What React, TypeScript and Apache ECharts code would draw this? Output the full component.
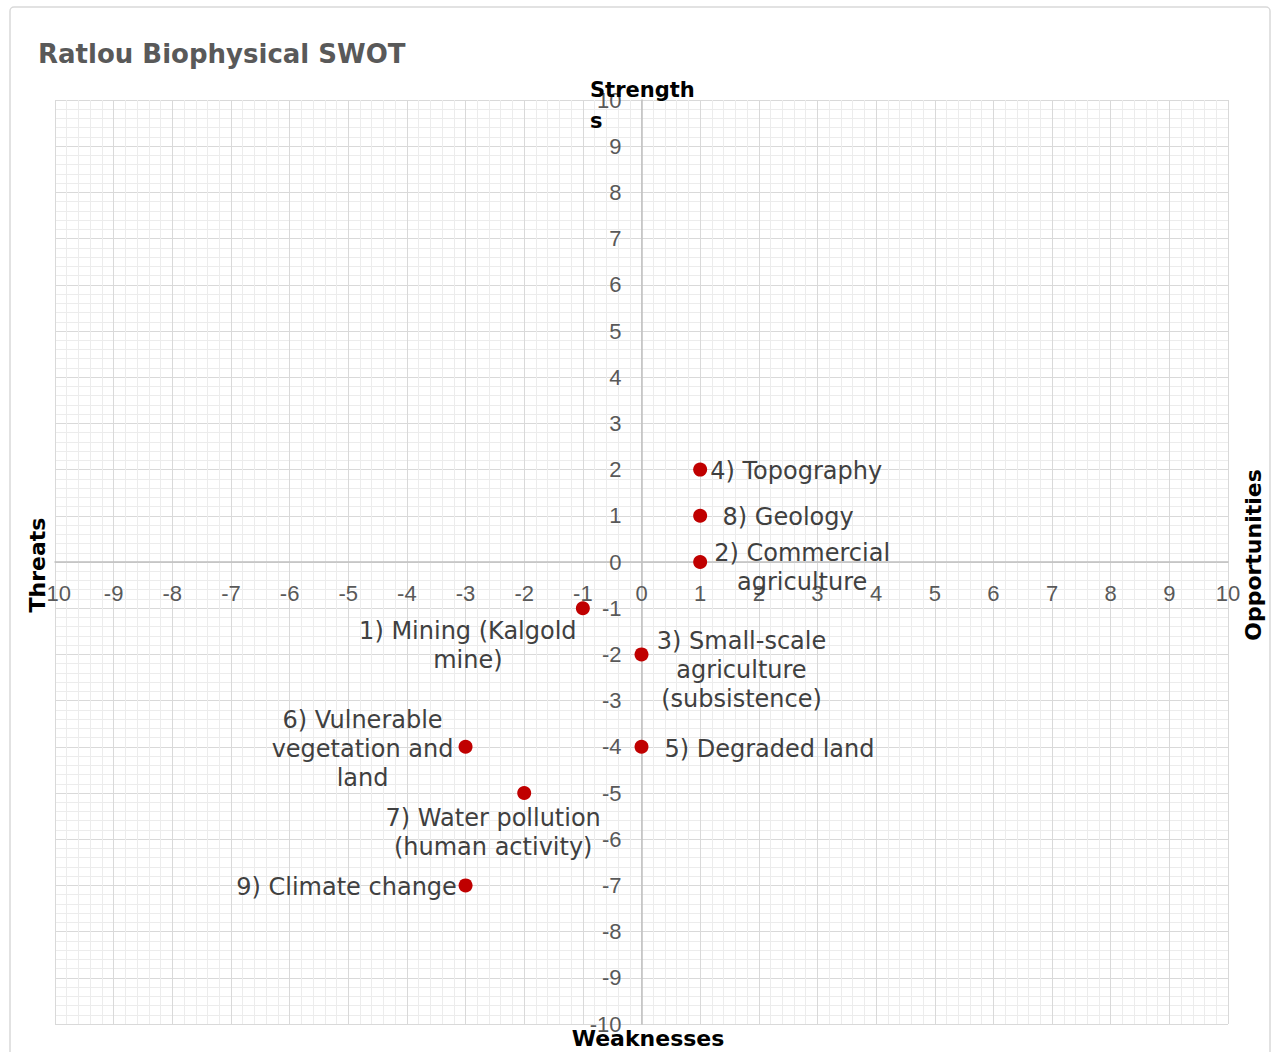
import React, { useEffect, useRef } from "react";
import * as echarts from "echarts";

const titleText = "Ratlou Biophysical SWOT";
const xValues = [-1, 1, 0, 1, 0, -3, -2, 1, -3];
const yValues = [-1, 0, -2, 2, -4, -4, -5, 1, -7];
const pointLabels = [
  "1) Mining (Kalgold\nmine)",
  "2) Commercial\nagriculture",
  "3) Small-scale\nagriculture\n(subsistence)",
  "4) Topography",
  "5) Degraded land",
  "6) Vulnerable\nvegetation and\nland",
  "7) Water pollution\n(human activity)",
  "8) Geology",
  "9) Climate change",
];
const axisMin = -10;
const axisMax = 10;
const axisStep = 1;
const axisNames = { top: "Strength\ns", bottom: "Weaknesses", left: "Threats", right: "Opportunities" };

// label placement (style): pixel offset of label centre from the point centre
const labelOffsets: [number, number][] = [
  [-115, 37],
  [102, 5],
  [100, 16],
  [96, 1],
  [128, 2],
  [-103, 2],
  [-31, 39],
  [88, 1],
  [-119, 2],
];
const SYMBOL = 14;

export default function App() {
  const ref = useRef<HTMLDivElement>(null);
  useEffect(() => {
    document.body.style.margin = "0";
    if (!ref.current) return;
    const chart = echarts.init(ref.current, undefined, { renderer: "svg" });
    const data = xValues.map((x, i) => ({
      value: [x, yValues[i]],
      label: {
        formatter: pointLabels[i],
        position: [SYMBOL / 2 + labelOffsets[i][0], SYMBOL / 2 + labelOffsets[i][1]],
      },
    }));
    const axisCommon = {
      type: "value",
      min: axisMin,
      max: axisMax,
      interval: axisStep,
      axisLine: { show: true, onZero: false, lineStyle: { color: "#bfbfbf", width: 1.5 } },
      axisTick: { show: false },
      axisLabel: {
        color: "#595959",
        fontSize: 22,
        fontFamily: "Liberation Sans",
        margin: 20,
      },
      splitLine: { show: true, lineStyle: { color: "#d9d9d9", width: 1 } },
      minorTick: { show: false, splitNumber: 5 },
      minorSplitLine: { show: true, lineStyle: { color: "#ececec", width: 1 } },
    };
    chart.setOption({
      animation: false,
      backgroundColor: "#ffffff",
      title: {
        text: titleText,
        left: 33,
        top: 36,
        textStyle: { color: "#595959", fontSize: 26, fontWeight: "bold", fontFamily: "DejaVu Sans" },
      },
      grid: { left: 55, right: 43, top: 100, bottom: 28, containLabel: false },
      xAxis: { ...axisCommon, position: "bottom", offset: -462 },
      yAxis: { ...axisCommon, position: "left", offset: -586.5 },
      graphic: [
        {
          type: "rect",
          shape: { x: 10, y: 7, width: 1260, height: 1070, r: 4 },
          style: { fill: "none", stroke: "#d9d9d9", lineWidth: 1.5 },
          z: -1,
        },
        {
          type: "text",
          x: 590,
          y: 74,
          style: {
            text: axisNames.top,
            font: "bold 21px 'DejaVu Sans'",
            fill: "#000000",
            textAlign: "left",
            textVerticalAlign: "top",
            lineHeight: 31,
          },
          z: 10,
        },
        {
          type: "text",
          x: 648,
          y: 1038,
          style: {
            text: axisNames.bottom,
            font: "bold 22px 'DejaVu Sans'",
            fill: "#000000",
            textAlign: "center",
            textVerticalAlign: "middle",
          },
          z: 10,
        },
        {
          type: "text",
          x: 37,
          y: 565,
          rotation: Math.PI / 2,
          style: {
            text: axisNames.left,
            font: "bold 22px 'DejaVu Sans'",
            fill: "#000000",
            textAlign: "center",
            textVerticalAlign: "middle",
          },
          z: 10,
        },
        {
          type: "text",
          x: 1253,
          y: 555,
          rotation: Math.PI / 2,
          style: {
            text: axisNames.right,
            font: "bold 22px 'DejaVu Sans'",
            fill: "#000000",
            textAlign: "center",
            textVerticalAlign: "middle",
          },
          z: 10,
        },
      ],
      series: [
        {
          type: "scatter",
          symbol: "circle",
          symbolSize: SYMBOL,
          itemStyle: { color: "#c00000", opacity: 1 },
          data,
          label: {
            show: true,
            align: "center",
            verticalAlign: "middle",
            color: "#404040",
            fontSize: 24,
            lineHeight: 29,
            fontFamily: "DejaVu Sans",
          },
          labelLayout: { hideOverlap: false },
        },
      ],
    });
    return () => chart.dispose();
  }, []);
  return <div ref={ref} style={{ width: 1271, height: 1052 }} />;
}
